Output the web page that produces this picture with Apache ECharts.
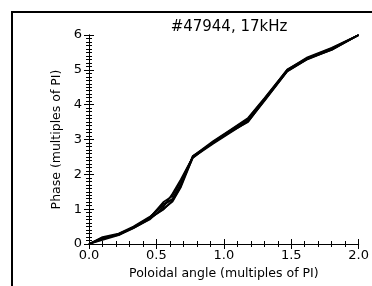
<!DOCTYPE html>
<html><head><meta charset="utf-8">
<script src="https://cdn.jsdelivr.net/npm/echarts@6/dist/echarts.min.js"></script>
<style>html,body{margin:0;padding:0;background:#fff}#c{width:372px;height:286px}</style>
</head><body><div id="c"></div>
<script>
const titleText = "#47944, 17kHz";
const xName = "Poloidal angle (multiples of PI)";
const yName = "Phase (multiples of PI)";
const angle = [0, 0.1, 0.22, 0.33, 0.45, 0.55, 0.62, 0.68, 0.77, 0.92, 1.05, 1.18, 1.3, 1.47, 1.62, 1.8, 2.0];
const phase1 = [0, 0.17, 0.28, 0.48, 0.75, 1.2, 1.38, 1.8, 2.5, 2.92, 3.25, 3.58, 4.15, 4.98, 5.33, 5.6, 6.0];
const phase2 = [0, 0.12, 0.25, 0.45, 0.72, 1.0, 1.22, 1.62, 2.48, 2.88, 3.2, 3.52, 4.1, 4.95, 5.3, 5.58, 6.0];
const phase3 = [0, 0.2, 0.3, 0.5, 0.78, 1.1, 1.3, 1.72, 2.52, 2.95, 3.28, 3.62, 4.18, 5.0, 5.36, 5.63, 6.0];
const phase4 = [0, 0.15, 0.27, 0.46, 0.7, 1.05, 1.45, 1.85, 2.5, 2.9, 3.22, 3.5, 4.12, 4.97, 5.31, 5.59, 6.0];
const phase5 = [0, 0.18, 0.26, 0.49, 0.76, 1.15, 1.28, 1.7, 2.47, 2.93, 3.27, 3.6, 4.16, 5.01, 5.34, 5.62, 6.0];
const phase6 = [0, 0.14, 0.29, 0.47, 0.74, 0.98, 1.25, 1.65, 2.53, 2.91, 3.24, 3.55, 4.13, 4.96, 5.32, 5.57, 6.0];
const xTicks = [0, 0.5, 1.0, 1.5, 2.0];
const yTicks = [0, 1, 2, 3, 4, 5, 6];

const allPhases = [phase1, phase2, phase3, phase4, phase5, phase6];
const font = "DejaVu Sans";
const mk = (ys) => ({
  type: 'line', xAxisIndex: 0, yAxisIndex: 0, showSymbol: false, symbol: 'none',
  data: angle.map((a, i) => [a, ys[i]]),
  lineStyle: { color: '#000', width: 1.7 }, animation: false
});
const chart = echarts.init(document.getElementById('c'), null, { renderer: 'canvas' });
const grid = { left: 89, right: 13, top: 35, bottom: 42 };
const common = {
  axisLine: { show: true, lineStyle: { color: '#000', width: 1 } },
  splitLine: { show: false },
  axisTick: { show: true, inside: true, length: 5, lineStyle: { color: '#000' } },
  minorTick: { show: true, splitNumber: 5, length: 3, lineStyle: { color: '#000' } }
};
chart.setOption({
  animation: false,
  backgroundColor: '#fff',
  title: { text: titleText, left: 224, top: 15, textAlign: 'center',
    textStyle: { fontFamily: font, fontSize: 15, fontWeight: 'normal', color: '#000' } },
  graphic: [{ type: 'rect', shape: { x: 12, y: 12, width: 420, height: 320 },
    style: { fill: 'none', stroke: '#000', lineWidth: 2 }, silent: true }],
  grid: grid,
  xAxis: [
    Object.assign({}, common, { type: 'value', min: 0, max: 2, interval: 0.5, position: 'bottom',
      name: xName, nameLocation: 'middle', nameGap: 21,
      nameTextStyle: { fontFamily: font, fontSize: 12.5, color: '#000' },
      axisLabel: { fontFamily: font, fontSize: 13, color: '#000', margin: 5,
        formatter: v => xTicks.includes(v) ? v.toFixed(1) : '' } }),
    Object.assign({}, common, { type: 'value', min: 0, max: 2, interval: 0.5, position: 'top',
      axisLabel: { show: false } })
  ],
  yAxis: [
    Object.assign({}, common, { type: 'value', min: 0, max: 6, interval: 1, position: 'left',
      name: yName, nameLocation: 'middle', nameGap: 19, nameRotate: 90,
      nameTextStyle: { fontFamily: font, fontSize: 12.5, color: '#000' },
      minorTick: { show: true, splitNumber: 10, length: 3, lineStyle: { color: '#000' } },
      axisLabel: { fontFamily: font, fontSize: 13, color: '#000', margin: 7,
        formatter: v => yTicks.includes(v) ? String(v) : '' } }),
    Object.assign({}, common, { type: 'value', min: 0, max: 6, interval: 1, position: 'right',
      minorTick: { show: true, splitNumber: 10, length: 3, lineStyle: { color: '#000' } },
      axisLabel: { show: false } })
  ],
  series: allPhases.map(mk)
});
</script></body></html>
